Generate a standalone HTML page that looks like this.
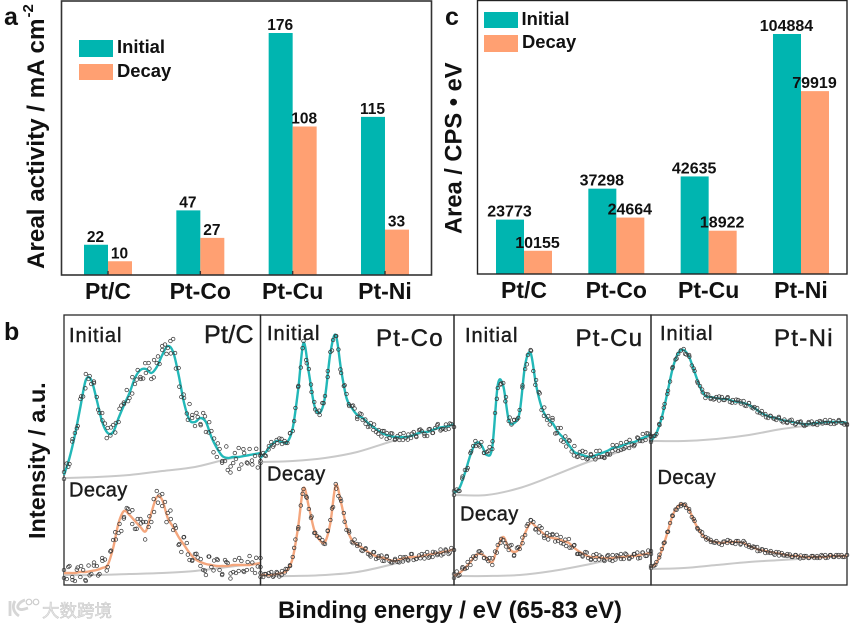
<!DOCTYPE html>
<html lang="en">
<head>
<meta charset="utf-8">
<title>Pt alloy catalyst activity and XPS spectra</title>
<style>
html,body{margin:0;padding:0;background:#fff;width:852px;height:626px;overflow:hidden}
svg{display:block;filter:blur(.3px)}
text{font-family:"Liberation Sans","Noto Sans CJK SC",sans-serif;fill:#111}
.b{font-weight:bold}
.lab{font-size:20px;letter-spacing:.4px;fill:#1c1c1c;stroke:#1c1c1c;stroke-width:.4px}
.lab-i{font-size:20px;letter-spacing:.95px;fill:#1c1c1c;stroke:#1c1c1c;stroke-width:.4px}
.nm{letter-spacing:1.3px;fill:#1c1c1c;stroke:#1c1c1c;stroke-width:.45px}
.nm-c{letter-spacing:.3px;fill:#1c1c1c;stroke:#1c1c1c;stroke-width:.45px}
</style>
</head>
<body>
<svg id="figure" xmlns="http://www.w3.org/2000/svg" width="852" height="626" viewBox="0 0 852 626">
  <rect width="852" height="626" fill="#fff"/>
  <g id="chartA"></g>
  <g id="chartC"></g>
  <g id="spectra"></g>

  <rect x="61.5" y="1" width="370" height="274" fill="none" stroke="#333" stroke-width="1.6"/>
  <rect x="477.5" y="0.5" width="369.5" height="273.5" fill="none" stroke="#222" stroke-width="1.4"/>

  <text class="b" x="4" y="25" font-size="25">a</text>
  <text class="b" x="445" y="25" font-size="25">c</text>
  <text class="b" x="4" y="340" font-size="25">b</text>

  <text class="b" transform="translate(44,269) rotate(-90)" font-size="24.2">Areal activity / mA cm<tspan font-size="15" dy="-11" dx="1">-2</tspan></text>
  <text class="b" transform="translate(461.5,234) rotate(-90)" font-size="23.7">Area / CPS • eV</text>
  <text class="b" transform="translate(45,539) rotate(-90)" font-size="23.5">Intensity / a.u.</text>
  <text class="b" x="450" y="618" text-anchor="middle" font-size="24">Binding energy / eV (65-83 eV)</text>

  <g>
    <rect x="79" y="40" width="34" height="17" fill="#00b5b0"/>
    <text class="b" x="117" y="53" font-size="18.4">Initial</text>
    <rect x="79" y="64" width="34" height="16" fill="#ffa072"/>
    <text class="b" x="117" y="77" font-size="18.4">Decay</text>
  </g>
  <g>
    <rect x="484" y="12" width="34" height="16" fill="#00b5b0"/>
    <text class="b" x="521.5" y="25" font-size="18.4">Initial</text>
    <rect x="484" y="35" width="34" height="17" fill="#ffa072"/>
    <text class="b" x="522" y="48" font-size="18.4">Decay</text>
  </g>

  <g opacity=".85">
    <path d="M10 601v15M15 601c-3 5-2 11 4 15M25 600c-6 2-8 6-7 8c2 3 7 1 10 0" fill="none" stroke="#cfcfcf" stroke-width="2.8"/>
    <circle cx="29" cy="602" r="2.8" fill="none" stroke="#c4c4c4" stroke-width="1.2"/>
    <circle cx="36" cy="602" r="2.8" fill="none" stroke="#c4c4c4" stroke-width="1.2"/>
    <text x="42" y="617" font-size="17.5" style="fill:#e2e2e2;stroke:#bcbcbc;stroke-width:.5px">大数跨境</text>
  </g>
</svg>

<script>
// ---------- Bar chart data ----------
const categories = ['Pt/C', 'Pt-Co', 'Pt-Cu', 'Pt-Ni'];
const activityInitial = [22, 47, 176, 115];
const activityDecay = [10, 27, 108, 33];
const areaInitial = [23773, 37298, 42635, 104884];
const areaDecay = [10155, 24664, 18922, 79919];

// ---------- XPS spectra data: intensity (a.u.) on a 0.5 eV grid from 65 to 83 eV ----------
const ptCInitialFit = [110,127,150,178,205,205,185,163,152,153,167,180,192,207,215,216,212,218,230,239,233,210,182,165,163,167,163,148,137,129,127,128,128,129,130,131,132];
const ptCDecayFit = [12,12,12,13,13,14,15,17,20,37,62,74,70,64,58,54,72,88,85,67,58,48,40,32,26,23,21,20,19,19,19,20,20,20,20,21,22];
const ptCoInitialFit = [127,133,140,144,143,143,157,195,242,212,180,172,188,232,250,215,187,177,170,167,162,158,154,151,149,148,148,148,149,151,153,153,155,157,158,159,161];
const ptCoDecayFit = [10,10,10,11,12,15,27,58,97,78,55,45,43,62,100,82,58,45,40,37,33,30,28,27,25,24,26,27,28,28,29,30,31,32,33,34,36];
const ptCuInitialFit = [92,97,112,130,142,140,130,138,200,199,165,162,173,220,232,200,178,167,162,153,147,140,133,131,129,128,130,132,134,137,138,140,142,143,146,148,151];
const ptCuDecayFit = [9,12,17,23,30,31,27,23,38,48,37,33,37,52,62,58,53,49,47,46,44,42,37,33,30,28,28,27,27,27,28,28,29,29,30,31,32];
const ptNiInitialFit = [144,152,168,192,217,232,235,228,213,198,189,188,187,186,186,184,183,182,180,177,173,170,168,167,165,164,163,162,161,161,162,162,163,163,163,163,162];
const ptNiDecayFit = [18,22,35,52,70,79,81,75,63,53,47,44,43,42,43,43,43,42,39,37,35,34,33,32,31,30,29,29,28,28,28,28,28,29,29,29,29];

// Background curves: intensity (a.u.) every 3 eV from 65 to 83 eV
const ptCInitialBg = [107,108,110,114,118,126,132];
const ptCDecayBg = [10,10,11,12,14,18,22];
const ptCoInitialBg = [123,124,127,133,143,152,161];
const ptCoDecayBg = [9,9,10,13,20,29,36];
const ptCuInitialBg = [90,90,97,109,122,133,149];
const ptCuDecayBg = [9,9,10,14,20,27,32];
const ptNiInitialBg = [144,144,146,150,156,160,163];
const ptNiDecayBg = [16,17,20,23,25,27,29];

// Measured points expressed as deviation (a.u.) from the fit, evenly spaced across 65-83 eV
const ptCInitialDev = [-4,3,-6,5,2,-5,8,-3,6,1,-4,7,3,-2,9,4,5,-3,7,2,-4,6,1,9,-5,-8,-6,4,-7,-9,-4,8,-6,10,4,-3,9,6,-2,8,13,-5,7,-8,5,-2,16,6,-4,3,-6,7,-10,-3,6,4,-9,3,-5,-4,-12,-15,-6,-2,9,-8,3,-7,6,-10,-2,-14,-3];
const ptCDecayDev = [3,-6,7,-4,-8,5,-5,2,-9,6,-3,8,4,-5,10,7,-2,5,8,-4,-10,-14,-6,5,3,-6,-8,5,8,7,9,-5,-9,-7,6,3,-6,7,5,12,-3,4,-8,-11,8,6,-7,-4,5,3,-4,-7,-11,8,-2,5,7,-4,-8,6,3,-13,-7,-8,-6,4,-7,-5,9,2,-9,-3,5];
const ptCoInitialDev = [-3,2,-4,-1,3,-2,1,3,-2,1,-1,2,-3,1,3,-1,2,-2,4,-3,3,-3,-2,2,1,-2,1,4,-1,3,-3,-2,4,-3,2,3,-4,3,-2,1,-4,2,-3,-3,1,-4,3,2,-2,3,-3,1,3,-3,-1,2,-2,3,-3,3,1,-2,-4,2,-3,1,4,-3,-2,2,-3,1,-3];
const ptCoDecayDev = [2,-2,1,-1,3,-1,2,-3,2,-1,1,-2,1,3,-2,2,-1,1,-2,2,-3,-1,2,1,-2,2,3,-3,1,-2,2,2,-3,1,-2,3,-1,2,-3,1,-2,-3,3,-3,1,2,-3,3,-1,-2,1,-2,2,-3,1,-3,3,-3,-2,1,2,-3,3,-2,-3,1,-1,3,-2,1,-3,2,-1];
const ptCuInitialDev = [-2,1,-3,2,3,-4,2,3,-3,-1,3,-3,3,4,-2,3,-3,1,3,6,-1,-3,3,-2,2,1,-4,4,3,-2,5,4,-3,5,-2,-4,3,-6,4,7,-4,-5,5,-3,6,-4,2,-3,4,-2,3,-1,4,-3,-4,-6,-3,-5,3,-2,-4,3,-4,2,-5,-2,-3,3,-2,4,-3,2,-3];
const ptCuDecayDev = [-2,3,-2,2,-1,3,-3,2,-1,3,1,-2,-1,2,-3,3,2,-1,-3,-4,-2,5,-3,2,-1,3,-2,4,3,3,-2,-3,4,-4,3,2,4,-3,-2,3,-3,-4,4,-2,3,-4,-2,-3,3,-2,-3,2,3,-2,1,-3,2,-2,3,-2,1,3,-2,2,-3,-1,2,3,-3,2,-2,3,-1];
const ptNiInitialDev = [-1,1,-1,1,-1,1,-1,-1,1,1,-1,1,1,-1,2,-1,1,-2,1,-1,-2,2,-1,-2,1,-2,2,-1,1,-2,1,-1,2,-1,2,-2,2,-1,1,2,-1,-1,1,-2,1,-1,-2,1,-1,1,-2,1,-1,-2,1,2,-1,-1,1,2,-1,1,2,-1,2,-1,-2,1,-1,2,-1,-2,-1];
const ptNiDecayDev = [-1,-1,1,-1,1,-1,1,1,-1,1,-1,1,-1,-1,1,-1,1,-1,1,-1,1,1,-1,-1,1,-1,-2,1,-1,1,-1,-2,1,-1,2,-1,1,-1,1,2,-1,1,-2,-1,1,-1,1,-2,1,-1,-1,1,-1,1,-1,1,-1,1,-1,1,-1,1,-1,1,2,-1,1,-1,1,-1,1,-1,1];

// Second run of measured points, same meaning, sampled at a different spacing
const ptCInitialDev2 = [3,-5,6,-3,7,-6,4,8,-4,2,-7,5,-6,7,3,-5,8,-4,-9,6,3,-7,8,5,-6,-4,7,-8,6,-5,3,8,-7,5,9,-11,6,-7,11,-9,4,-12,7,-8,-6,5,-10];
const ptCDecayDev2 = [-5,6,-7,3,6,-8,-4,5,-6,7,-5,4,6,-3,-7,5,8,-6,4,-9,3,7,-5,6,-8,4,5,-6,7,-4,-5,6,3,-7,8,-5,6,-9,4,-8,5,7,-6,3,-5,6,-4];
const ptCoInitialDev2 = [3,-2,2,-3,-2,3,-1,2,-3,2,3,-2,1,-3,2,-2,3,-3,2,-4,3,-2,4,-2,3,-3,-2,3,-3,2,-4,3,-2,-3,4,-3,2,-2,3,-4,2,-3,3,-2,-3,2,-3];
const ptCoDecayDev2 = [-2,1,2,-2,1,-2,2,-1,2,-2,1,2,-2,-1,2,-2,1,3,-2,2,-3,2,-2,1,-3,2,-2,3,-1,-3,2,-2,2,-3,1,-2,3,-2,-2,1,-3,2,-2,-3,2,-2,-1];
const ptCuInitialDev2 = [2,-2,3,-3,2,3,-2,-3,2,3,-3,2,-2,3,3,-3,2,-3,5,-4,6,-4,3,5,-3,-5,4,5,-4,-3,4,-3,2,-4,3,-5,-4,-3,2,-4,-3,3,-4,2,-3,3,-2];
const ptCuDecayDev2 = [2,-2,3,-2,2,-3,3,-2,-2,3,-3,2,-2,3,-4,2,-3,4,3,-3,4,-2,-3,3,4,-3,2,-4,2,-3,-2,3,-2,-3,2,-2,3,-3,2,-2,3,-2,2,-3,2,-2,2];
const ptNiInitialDev2 = [1,-1,-1,1,-1,2,-1,1,-2,1,1,-2,1,2,-2,-1,2,-1,2,-2,2,1,-2,2,-1,-2,2,-2,1,-1,2,-2,-1,2,-1,1,-2,2,-1,-2,1,-1,2,-2,1,-1,-2];
const ptNiDecayDev2 = [1,-1,1,1,-1,1,-1,-1,1,-1,1,-1,2,-1,1,-1,-1,1,2,-1,1,-2,1,-1,1,-2,1,1,-1,-2,1,-1,1,-1,1,-2,1,-1,1,-1,2,-1,1,-1,1,-1,1];

// ---------- Helpers ----------
const SVG_NS = 'http://www.w3.org/2000/svg';
function make(tag, parent, attrs, content) {
  const el = document.createElementNS(SVG_NS, tag);
  for (const k in attrs) el.setAttribute(k, attrs[k]);
  if (content !== undefined) el.textContent = content;
  parent.appendChild(el);
  return el;
}
const TEAL = '#00b5b0', ORANGE = '#ffa072';

// ---------- Bar charts ----------
function drawBars(rootId, initial, decay, xAxis, yAxis, barW, labelSize, catBaseline, labelFmt, withTicks) {
  const root = document.getElementById(rootId);
  categories.forEach(function (cat, i) {
    const cx = xAxis(i);
    const top1 = yAxis(initial[i]);
    const top2 = yAxis(decay[i]);
    const base = yAxis(0);
    const b1 = make('rect', root, {x: cx - barW, y: top1, width: barW, height: base - top1, fill: TEAL});
    
    
    const b2 = make('rect', root, {x: cx, y: top2, width: barW, height: base - top2, fill: ORANGE});
    
    
    const t1 = make('text', root, {x: cx - barW / 2 - .5, y: top1 - 3, 'text-anchor': 'middle', 'font-size': labelSize, 'font-weight': 'bold'}, labelFmt(initial[i]));
    
    
    const t2 = make('text', root, {x: cx + barW / 2 - .5, y: top2 - 3, 'text-anchor': 'middle', 'font-size': labelSize, 'font-weight': 'bold'}, labelFmt(decay[i]));
    
    
    const c = make('text', root, {x: cx, y: catBaseline, 'text-anchor': 'middle', 'font-size': 23, 'font-weight': 'bold'}, cat);
    
    
    if (withTicks) {
      const tick = make('line', root, {x1: cx, x2: cx, y1: base, y2: base - 4, stroke: '#333', 'stroke-width': 1.4});
      
      
    }
  });
}
function xActivity(i) { return 108 + i * 92.33; }
function yActivity(v) { return 275 - v * 1.375; }
function xArea(i) { return 524 + i * 92.33; }
function yArea(v) { return 274 - v * 240 / 104884; }
drawBars('chartA', activityInitial, activityDecay, xActivity, yActivity, 24, 15.5, 299, String, true);
drawBars('chartC', areaInitial, areaDecay, xArea, yArea, 28, 16, 298, String, false);

// ---------- Spectra ----------
const panelLayout = [
  {name: 'pt-c', left: 64, right: 260.5, title: 'Pt/C', titleClass: 'nm-c', titleX: 204, titleY: 343, titleSize: 25, iX: 69, iY: 342, dX: 69, dY: 496.5,
   initial: ptCInitialFit, decay: ptCDecayFit, initialBg: ptCInitialBg, decayBg: ptCDecayBg, initialDev: ptCInitialDev, decayDev: ptCDecayDev, initialDev2: ptCInitialDev2, decayDev2: ptCDecayDev2},
  {name: 'pt-co', left: 260.5, right: 454, title: 'Pt-Co', titleClass: 'nm', titleX: 376, titleY: 346, titleSize: 24, iX: 267, iY: 340, dX: 267, dY: 480.5,
   initial: ptCoInitialFit, decay: ptCoDecayFit, initialBg: ptCoInitialBg, decayBg: ptCoDecayBg, initialDev: ptCoInitialDev, decayDev: ptCoDecayDev, initialDev2: ptCoInitialDev2, decayDev2: ptCoDecayDev2},
  {name: 'pt-cu', left: 454, right: 651, title: 'Pt-Cu', titleClass: 'nm', titleX: 575.5, titleY: 346, titleSize: 24, iX: 465, iY: 342, dX: 460, dY: 520.5,
   initial: ptCuInitialFit, decay: ptCuDecayFit, initialBg: ptCuInitialBg, decayBg: ptCuDecayBg, initialDev: ptCuInitialDev, decayDev: ptCuDecayDev, initialDev2: ptCuInitialDev2, decayDev2: ptCuDecayDev2},
  {name: 'pt-ni', left: 651, right: 847, title: 'Pt-Ni', titleClass: 'nm', titleX: 774, titleY: 346, titleSize: 24, iX: 660, iY: 340, dX: 657.5, dY: 484,
   initial: ptNiInitialFit, decay: ptNiDecayFit, initialBg: ptNiInitialBg, decayBg: ptNiDecayBg, initialDev: ptNiInitialDev, decayDev: ptNiDecayDev, initialDev2: ptNiInitialDev2, decayDev2: ptNiDecayDev2}
];
const SPEC_TOP = 315, SPEC_BOTTOM = 585, E_MIN = 65, E_MAX = 83, I_MAX = 270;
function yIntensity(v) { return SPEC_BOTTOM - (v / I_MAX) * (SPEC_BOTTOM - SPEC_TOP); }
function xEnergy(p, e) { return p.left + (e - E_MIN) / (E_MAX - E_MIN) * (p.right - p.left); }
function seriesAt(series, e) {
  const pos = (e - E_MIN) / (E_MAX - E_MIN) * (series.length - 1);
  const a = Math.min(Math.floor(pos), series.length - 2);
  const f = pos - a;
  return series[a] * (1 - f) + series[a + 1] * f;
}
function smoothPath(pts) {
  let d = 'M' + pts[0][0].toFixed(2) + ' ' + pts[0][1].toFixed(2);
  for (let i = 0; i < pts.length - 1; i++) {
    const p0 = pts[Math.max(i - 1, 0)], p1 = pts[i], p2 = pts[i + 1], p3 = pts[Math.min(i + 2, pts.length - 1)];
    const c1x = p1[0] + (p2[0] - p0[0]) / 6, c1y = p1[1] + (p2[1] - p0[1]) / 6;
    const c2x = p2[0] - (p3[0] - p1[0]) / 6, c2y = p2[1] - (p3[1] - p1[1]) / 6;
    d += 'C' + c1x.toFixed(2) + ' ' + c1y.toFixed(2) + ' ' + c2x.toFixed(2) + ' ' + c2y.toFixed(2) + ' ' + p2[0].toFixed(2) + ' ' + p2[1].toFixed(2);
  }
  return d;
}
function seriesPoints(p, series) {
  return series.map(function (v, i) {
    return [xEnergy(p, E_MIN + i * (E_MAX - E_MIN) / (series.length - 1)), yIntensity(v)];
  });
}
const spectraRoot = document.getElementById('spectra');
function drawPoints(p, group, fit, dev) {
  dev.forEach(function (d, i) {
    const e = E_MIN + i * (E_MAX - E_MIN) / (dev.length - 1);
    const dot = make('circle', group, {cx: xEnergy(p, e).toFixed(2), cy: yIntensity(seriesAt(fit, e) + d).toFixed(2), r: 1.8, fill: 'none', stroke: '#3a3a3a', 'stroke-width': .75});
    
    
  });
}
function drawSpectrum(p, group, fit, bg, dev, dev2, color) {
  const bgPath = make('path', group, {d: smoothPath(seriesPoints(p, bg)), fill: 'none', stroke: '#c9c9c9', 'stroke-width': 2});
  
  
  const fitPath = make('path', group, {d: smoothPath(seriesPoints(p, fit)), fill: 'none', stroke: color, 'stroke-width': 2.4, 'stroke-linejoin': 'round'});
  
  
  drawPoints(p, group, fit, dev);
  drawPoints(p, group, fit, dev2);
}
panelLayout.forEach(function (p) {
  const g = make('g', spectraRoot, {});
  
  
  const frame = make('rect', g, {x: p.left, y: SPEC_TOP, width: p.right - p.left, height: SPEC_BOTTOM - SPEC_TOP, fill: 'none', stroke: '#2a2a2a', 'stroke-width': 1.3});
  
  
  drawSpectrum(p, g, p.initial, p.initialBg, p.initialDev, p.initialDev2, '#22b8b8');
  drawSpectrum(p, g, p.decay, p.decayBg, p.decayDev, p.decayDev2, '#f4a67d');
  const tTitle = make('text', g, {x: p.titleX, y: p.titleY, 'class': p.titleClass, 'font-size': p.titleSize}, p.title);
  
  
  const tInit = make('text', g, {x: p.iX, y: p.iY, 'class': 'lab-i'}, 'Initial');
  
  
  const tDecay = make('text', g, {x: p.dX, y: p.dY, 'class': 'lab'}, 'Decay');
  
  
});
</script>
</body>
</html>
